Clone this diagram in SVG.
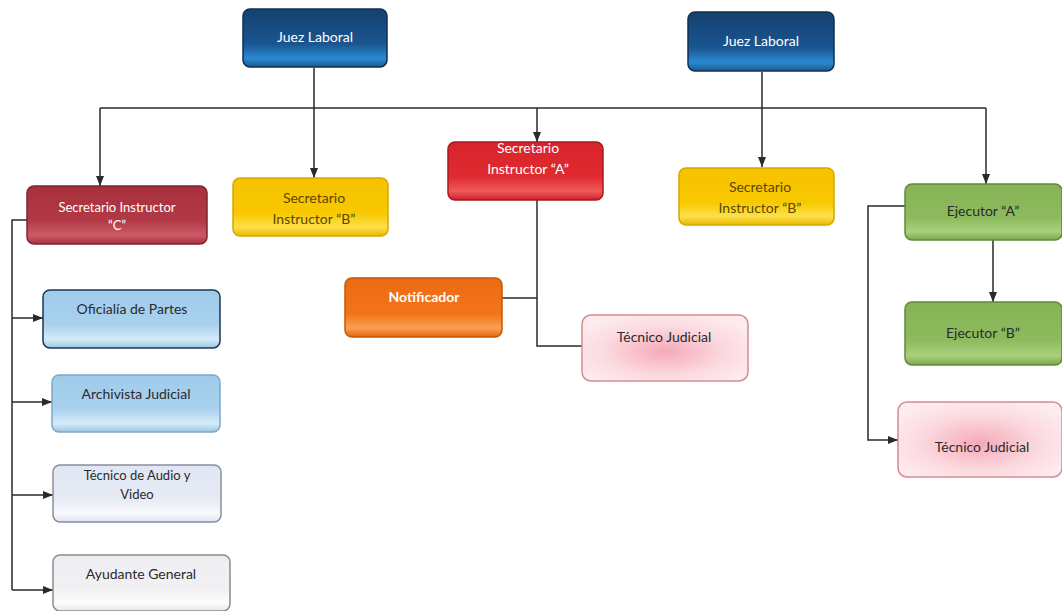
<svg xmlns="http://www.w3.org/2000/svg" width="1062" height="611" viewBox="0 0 1062 611">
<defs>
<linearGradient id="gBlue" x1="0" y1="0" x2="0" y2="1"><stop offset="0" stop-color="#15416f"/><stop offset="0.6" stop-color="#1a5590"/><stop offset="0.85" stop-color="#2a8ad0"/><stop offset="1" stop-color="#1b5a93"/></linearGradient>
<linearGradient id="gRedDark" x1="0" y1="0" x2="0" y2="1"><stop offset="0" stop-color="#a8303c"/><stop offset="0.6" stop-color="#b23a47"/><stop offset="0.85" stop-color="#cc5a66"/><stop offset="1" stop-color="#a33341"/></linearGradient>
<linearGradient id="gYellow" x1="0" y1="0" x2="0" y2="1"><stop offset="0" stop-color="#f6c200"/><stop offset="0.6" stop-color="#f8c800"/><stop offset="0.85" stop-color="#fde04a"/><stop offset="1" stop-color="#eab800"/></linearGradient>
<linearGradient id="gRed" x1="0" y1="0" x2="0" y2="1"><stop offset="0" stop-color="#d8242c"/><stop offset="0.6" stop-color="#e02a30"/><stop offset="0.85" stop-color="#ee5a5a"/><stop offset="1" stop-color="#c8202a"/></linearGradient>
<linearGradient id="gOrange" x1="0" y1="0" x2="0" y2="1"><stop offset="0" stop-color="#ee6a14"/><stop offset="0.6" stop-color="#f27419"/><stop offset="0.85" stop-color="#f8a050"/><stop offset="1" stop-color="#e66410"/></linearGradient>
<radialGradient id="gPink" cx="0.5" cy="0.55" r="0.6"><stop offset="0" stop-color="#f5a9b8"/><stop offset="0.6" stop-color="#fbd9df"/><stop offset="1" stop-color="#fdebee"/></radialGradient>
<linearGradient id="gGreen" x1="0" y1="0" x2="0" y2="1"><stop offset="0" stop-color="#86b356"/><stop offset="0.6" stop-color="#8dba5c"/><stop offset="0.85" stop-color="#a9cf7c"/><stop offset="1" stop-color="#7ca84d"/></linearGradient>
<linearGradient id="gLBlue" x1="0" y1="0" x2="0" y2="1"><stop offset="0" stop-color="#9fcbea"/><stop offset="0.6" stop-color="#a9d1ee"/><stop offset="0.85" stop-color="#d6ebf8"/><stop offset="1" stop-color="#9cc6e4"/></linearGradient>
<linearGradient id="gPale" x1="0" y1="0" x2="0" y2="1"><stop offset="0" stop-color="#e0e6f3"/><stop offset="0.6" stop-color="#e6ebf6"/><stop offset="0.85" stop-color="#f8f9fd"/><stop offset="1" stop-color="#dde3ef"/></linearGradient>
<linearGradient id="gGray" x1="0" y1="0" x2="0" y2="1"><stop offset="0" stop-color="#eeeef2"/><stop offset="0.6" stop-color="#f1f1f4"/><stop offset="0.85" stop-color="#fcfcfd"/><stop offset="1" stop-color="#e8e8ec"/></linearGradient>
<marker id="arr" viewBox="0 0 10 10" refX="10" refY="5" markerWidth="7" markerHeight="7" orient="auto-start-reverse"><path d="M0,1 L10,5 L0,9 z" fill="#2a2a2a"/></marker>
</defs>
<style>
text{font-family:Lato,"Open Sans","Liberation Sans",sans-serif;font-size:14px;text-anchor:middle}
.w{fill:#ffffff}
.d{fill:#2b2b2b}
.y{fill:#5a4600}
.box{stroke-width:1.5}
.c{fill:none;stroke:#2a2a2a;stroke-width:1.5}
</style>
<g id="connectors">
<path class="c" d="M100,108 H986"/>
<path class="c" d="M314,68 V108 M314,108 V178" marker-end="url(#arr)"/>
<path class="c" d="M100,108 V186" marker-end="url(#arr)"/>
<path class="c" d="M537,108 V142" marker-end="url(#arr)"/>
<path class="c" d="M762,72 V167" marker-end="url(#arr)"/>
<path class="c" d="M986,108 V184" marker-end="url(#arr)"/>
<path class="c" d="M27,220 H12 V590"/>
<path class="c" d="M12,318 H43" marker-end="url(#arr)"/>
<path class="c" d="M12,402 H52" marker-end="url(#arr)"/>
<path class="c" d="M12,495 H53" marker-end="url(#arr)"/>
<path class="c" d="M12,590 H53" marker-end="url(#arr)"/>
<path class="c" d="M537,200 V346 H582"/>
<path class="c" d="M502,298 H537"/>
<path class="c" d="M993,240 V302" marker-end="url(#arr)"/>
<path class="c" d="M905,206 H868 V440 H898" marker-end="url(#arr)"/>
</g>
<g id="juez1"><rect class="box" x="243" y="9" width="144" height="58" rx="7" fill="url(#gBlue)" stroke="#0f2f52"/><text class="w" x="315" y="42">Juez Laboral</text></g>
<g id="juez2"><rect class="box" x="688" y="12" width="146" height="59" rx="7" fill="url(#gBlue)" stroke="#0f2f52"/><text class="w" x="761" y="46">Juez Laboral</text></g>
<g id="secC"><rect class="box" x="27" y="186" width="180" height="58" rx="7" fill="url(#gRedDark)" stroke="#7e2530"/><text class="w" x="117" y="212" style="font-size:13px">Secretario Instructor</text><text class="w" x="117" y="230" style="font-size:13px">“C”</text></g>
<g id="secB1"><rect class="box" x="233" y="178" width="155" height="58" rx="7" fill="url(#gYellow)" stroke="#d8a800"/><text class="y" x="314" y="203">Secretario</text><text class="y" x="314" y="224">Instructor “B”</text></g>
<g id="secA"><rect class="box" x="448" y="142" width="155" height="58" rx="7" fill="url(#gRed)" stroke="#a8181f"/><text class="w" x="528" y="153">Secretario</text><text class="w" x="528" y="174">Instructor “A”</text></g>
<g id="secB2"><rect class="box" x="679" y="168" width="155" height="57" rx="7" fill="url(#gYellow)" stroke="#d8a800"/><text class="y" x="760" y="192">Secretario</text><text class="y" x="760" y="213">Instructor “B”</text></g>
<g id="ejecA"><rect class="box" x="905" y="184" width="157" height="56" rx="7" fill="url(#gGreen)" stroke="#5f8a38"/><text class="d" x="983" y="216">Ejecutor “A”</text></g>
<g id="ejecB"><rect class="box" x="905" y="302" width="157" height="63" rx="7" fill="url(#gGreen)" stroke="#5f8a38"/><text class="d" x="983" y="338">Ejecutor “B”</text></g>
<g id="tecJud2"><rect class="box" x="898" y="402" width="164" height="75" rx="9" fill="url(#gPink)" stroke="#d88a90"/><text class="d" x="982" y="452">Técnico Judicial</text></g>
<g id="notificador"><rect class="box" x="345" y="278" width="157" height="59" rx="7" fill="url(#gOrange)" stroke="#c8560a"/><text class="w" x="424" y="302" style="font-weight:bold">Notificador</text></g>
<g id="tecJud1"><rect class="box" x="582" y="315" width="166" height="66" rx="9" fill="url(#gPink)" stroke="#d88a90"/><text class="d" x="664" y="342">Técnico Judicial</text></g>
<g id="oficialia"><rect class="box" x="43" y="290" width="177" height="58" rx="7" fill="url(#gLBlue)" stroke="#1e3550"/><text class="d" x="132" y="314">Oficialía de Partes</text></g>
<g id="archivista"><rect class="box" x="52" y="375" width="168" height="57" rx="7" fill="url(#gLBlue)" stroke="#7fa8c8"/><text class="d" x="136" y="399">Archivista Judicial</text></g>
<g id="tecAudio"><rect class="box" x="53" y="465" width="168" height="57" rx="7" fill="url(#gPale)" stroke="#8a8e9a"/><text class="d" x="137" y="480" style="font-size:13px">Técnico de Audio y</text><text class="d" x="137" y="499" style="font-size:13px">Video</text></g>
<g id="ayudante"><rect class="box" x="53" y="555" width="177" height="56" rx="7" fill="url(#gGray)" stroke="#8a8a90"/><text class="d" x="141" y="579">Ayudante General</text></g>
</svg>
